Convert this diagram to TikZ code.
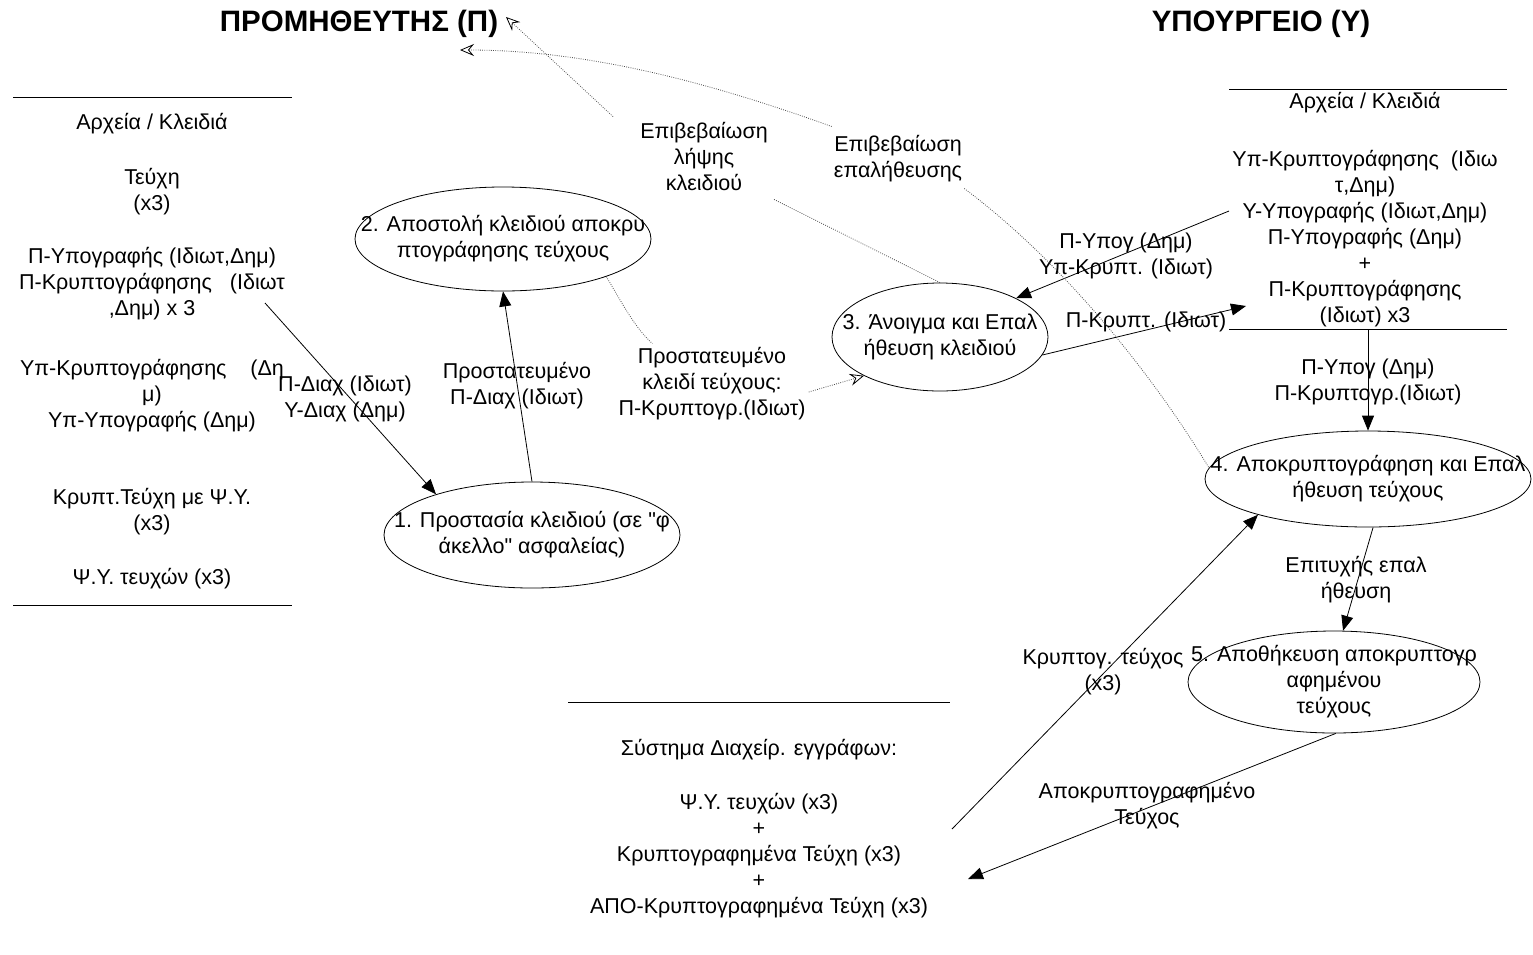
\documentclass[tikz,border=0pt]{standalone}
\usepackage{fontspec}
\setmainfont{Liberation Sans}[Ligatures=TeXOff]
\usetikzlibrary{arrows.meta,shapes.geometric}
\begin{document}
\begin{tikzpicture}[x=1pt,y=-1pt,
  txt/.style={font=\fontsize{21.5}{26}\selectfont, inner sep=0pt, align=center},
  ttl/.style={font=\fontsize{29.5}{33}\selectfont\bfseries, inner sep=0pt},
  proc/.style={draw, ellipse, line width=0.8pt, inner sep=0pt},
  rule/.style={line width=0.9pt},
  arr/.style={line width=0.8pt, -{Triangle[length=15pt,width=12pt]}},
  dotln/.style={line width=0.8pt, black!70, dash pattern=on 0.8pt off 1.4pt},
  dotarr/.style={dotln, -{Stealth[open, length=14pt, width=12pt, inset=5pt, line width=0.8pt, color=black]}},
]
\useasboundingbox (0,0) rectangle (1533,954);

% titles
\node[ttl] (tP) at (359,24) {ΠΡΟΜΗΘΕΥΤΗΣ (Π)};
\node[ttl] (tY) at (1261,24) {ΥΠΟΥΡΓΕΙΟ (Υ)};

% left store
\draw[rule] (13,97) -- (292,97);
\draw[rule] (13,605) -- (292,605);
\node[txt] (L1) at (152,124) {Αρχεία / Κλειδιά};
\node[txt] (L2) at (152,192) {Τεύχη\\(x3)};
\node[txt] (L3) at (152,284) {Π-Υπογραφής (Ιδιωτ,Δημ)\\Π-Κρυπτογράφησης~~~(Ιδιωτ\\,Δημ) x 3};
\node[txt] (L4) at (152,396) {Υπ-Κρυπτογράφησης~~~~(Δη\\μ)\\Υπ-Υπογραφής (Δημ)};
\node[txt] (L5) at (152,512) {Κρυπτ.Τεύχη με Ψ.Υ.\\(x3)};
\node[txt] (L6) at (152,579) {Ψ.Υ. τευχών (x3)};

% right store
\draw[rule] (1229,89) -- (1507,89);
\draw[rule] (1229,329) -- (1507,329);
\node[txt] (R1) at (1365,103) {Αρχεία / Κλειδιά};
\node[txt] (R2) at (1365,239) {Υπ-Κρυπτογράφησης~~(Ιδιω\\τ,Δημ)\\Υ-Υπογραφής (Ιδιωτ,Δημ)\\Π-Υπογραφής (Δημ)\\+\\Π-Κρυπτογράφησης\\(Ιδιωτ) x3};

% bottom store
\draw[rule] (568,702) -- (950,702);
\node[txt] (B1) at (759,750) {Σύστημα Διαχείρ. εγγράφων:};
\node[txt] (B2) at (759,856) {Ψ.Υ. τευχών (x3)\\+\\Κρυπτογραφημένα Τεύχη (x3)\\+\\ΑΠΟ-Κρυπτογραφημένα Τεύχη (x3)};

% processes
\node[proc, minimum width=296pt, minimum height=106pt] (e1) at (532,535) {};
\node[txt] (e1t) at (e1) {1. Προστασία κλειδιού (σε "φ\\άκελλο" ασφαλείας)};
\node[proc, minimum width=296pt, minimum height=104pt] (e2) at (503,239) {};
\node[txt] (e2t) at (e2) {2. Αποστολή κλειδιού αποκρυ\\πτογράφησης τεύχους};
\node[proc, minimum width=216pt, minimum height=108pt] (e3) at (940,337) {};
\node[txt] (e3t) at (e3) {3. Άνοιγμα και Επαλ\\ήθευση κλειδιού};
\node[proc, minimum width=326pt, minimum height=96pt] (e4) at (1368,479) {};
\node[txt] (e4t) at (e4) {4. Αποκρυπτογράφηση και Επαλ\\ήθευση τεύχους};
\node[proc, minimum width=292pt, minimum height=102pt] (e5) at (1334,682) {};
\node[txt] (e5t) at (e5) {5. Αποθήκευση αποκρυπτογρ\\αφημένου\\τεύχους};

% free ends
\coordinate (lsA) at (265,303);
\coordinate (rsA) at (1229,211);
\coordinate (rsC) at (1246,306);
\coordinate (rsB) at (1368,330);
\coordinate (bsA) at (952,829);
\coordinate (bsB) at (968,879);
\coordinate (tipA) at (506,17);
\coordinate (tipB) at (460,50);

% solid connectors
\draw[arr] (lsA) -- (e1.157);
\draw[arr] (e1.north) -- (e2.south);
\draw[arr] (rsA) -- (e3.27);
\draw[arr] (e3.-10) -- (rsC);
\draw[arr] (rsB) -- (e4.north);
\draw[arr] (e4.-84) -- (e5.80);
\draw[arr] (bsA) -- (e4.198);
\draw[arr] (e5.-88) -- (bsB);

% connector labels
\node[txt] (la1) at (345,399) {Π-Διαχ (Ιδιωτ)\\Υ-Διαχ (Δημ)};
\node[txt] (la2) at (517,386) {Προστατευμένο\\Π-Διαχ (Ιδιωτ)};
\node[txt] (la3) at (1126,256) {Π-Υπογ (Δημ)\\Υπ-Κρυπτ. (Ιδιωτ)};
\node[txt] (la4) at (1146,322) {Π-Κρυπτ. (Ιδιωτ)};
\node[txt] (la5) at (1368,382) {Π-Υπογ (Δημ)\\Π-Κρυπτογρ.(Ιδιωτ)};
\node[txt] (la6) at (1356,580) {Επιτυχής επαλ\\ήθευση};
\node[txt] (la7) at (1103,672) {Κρυπτογ. τεύχος\\(x3)};
\node[txt] (la8) at (1147,806) {Αποκρυπτογραφημένο\\Τεύχος};

% dotted flows
\node[txt] (lp) at (712,384) {Προστατευμένο\\κλειδί τεύχους:\\Π-Κρυπτογρ.(Ιδιωτ)};
\node[txt] (lk) at (704,156) {Επιβεβαίωση\\λήψης\\κλειδιού};
\node[txt] (lv) at (898,159) {Επιβεβαίωση\\επαλήθευσης};

\draw[dotln] (e2.-20) .. controls (622,303) and (635,328) .. ([xshift=34pt,yshift=4pt]lp.north west);
\draw[dotarr] ([xshift=3pt,yshift=-8pt]lp.east) -- (e3.207);

\draw[dotln] (e3.north) -- ([xshift=6pt,yshift=-9pt]lk.south east);
\draw[dotarr] ([xshift=-27pt,yshift=5pt]lk.north west) -- (tipA);

\draw[dotarr] ([xshift=-2pt,yshift=9pt]lv.north west) .. controls (730,90) and (600,50) .. (tipB);
\draw[dotln] ([xshift=2pt,yshift=-6pt]lv.south east) .. controls (1060,260) and (1150,370) .. (e4.176);
\end{tikzpicture}
\end{document}
